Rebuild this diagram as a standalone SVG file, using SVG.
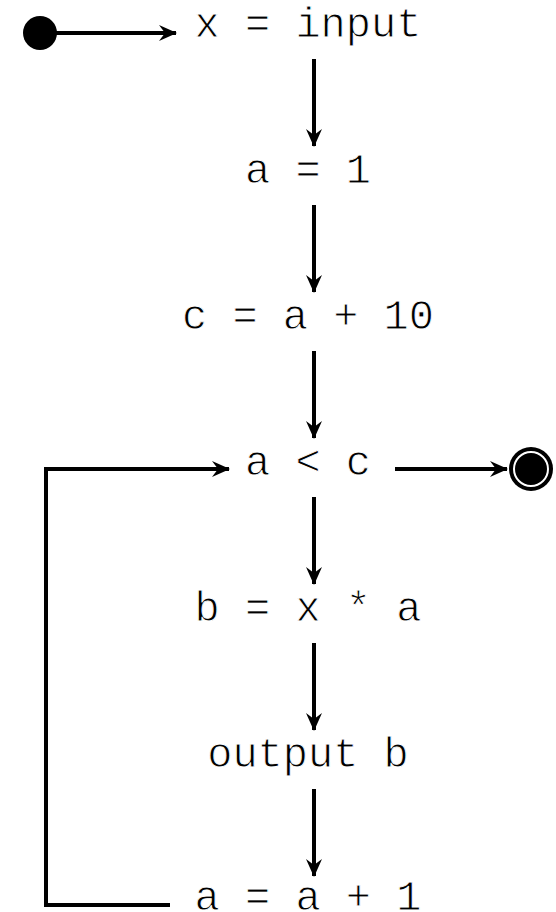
<svg xmlns="http://www.w3.org/2000/svg" width="556" height="912" viewBox="0 0 556 912">
<style>
  .lbl { font-family: "Liberation Mono", "Courier New", monospace; font-size: 42px; fill: #000; text-anchor: middle; stroke: #fff; stroke-width: 0.9px; paint-order: fill; }
  .edge { fill: none; stroke: #000; stroke-width: 4; stroke-linejoin: miter; }
</style>
<defs>
  <marker id="ah" markerUnits="userSpaceOnUse" markerWidth="22" markerHeight="20" viewBox="-20 -10 22 20" refX="0" refY="0" orient="auto">
    <path d="M1,0 L-17,-8 L-11,0 L-17,8 Z" fill="#000"/>
  </marker>
</defs>
<rect width="556" height="912" fill="#fff"/>
<g id="start"><circle cx="40" cy="33" r="17" fill="#000"/></g>
<g id="end">
  <circle cx="531" cy="469" r="22" fill="#000"/>
  <circle cx="531" cy="469" r="17" fill="none" stroke="#fff" stroke-width="2"/>
</g>
<g id="n1"><text class="lbl" x="308" y="37">x = input</text></g>
<g id="n2"><text class="lbl" x="308" y="183">a = 1</text></g>
<g id="n3"><text class="lbl" x="308" y="329">c = a + 10</text></g>
<g id="n4"><text class="lbl" x="308" y="475">a &lt; c</text></g>
<g id="n5"><text class="lbl" x="308" y="621">b = x * a</text></g>
<g id="n6"><text class="lbl" x="308" y="767">output b</text></g>
<g id="n7"><text class="lbl" x="308" y="910">a = a + 1</text></g>
<g id="connectors">
  <path class="edge" d="M55,33 H176" marker-end="url(#ah)"/>
  <path class="edge" d="M314,59 V146" marker-end="url(#ah)"/>
  <path class="edge" d="M314,205 V292" marker-end="url(#ah)"/>
  <path class="edge" d="M314,351 V438" marker-end="url(#ah)"/>
  <path class="edge" d="M314,497 V584" marker-end="url(#ah)"/>
  <path class="edge" d="M314,643 V730" marker-end="url(#ah)"/>
  <path class="edge" d="M314,789 V876" marker-end="url(#ah)"/>
  <path class="edge" d="M395,469 H507" marker-end="url(#ah)"/>
  <path class="edge" d="M170,905 H46 V469 H229" marker-end="url(#ah)"/>
</g>
</svg>
